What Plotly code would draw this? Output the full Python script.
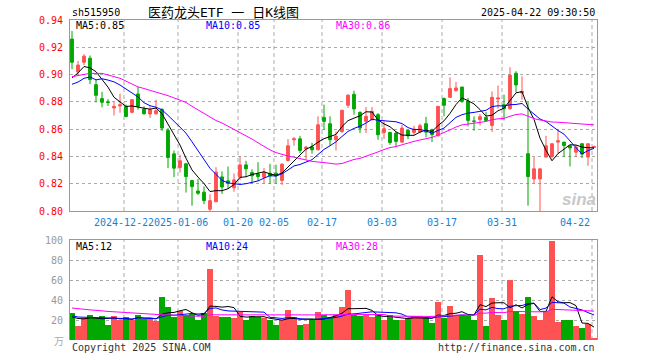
import plotly.graph_objects as go
import pandas as pd

# ---------------- data ----------------
opens = [0.926, 0.902, 0.909, 0.912, 0.8926, 0.8824, 0.880, 0.8755, 0.8770, 0.8767,
         0.8723, 0.8858, 0.8748, 0.8711, 0.8713, 0.8743, 0.8590, 0.8419, 0.8319, 0.8346,
         0.8223, 0.8147, 0.8138, 0.8013, 0.8068, 0.8250, 0.8221, 0.8170, 0.8248, 0.8338,
         0.8282, 0.8272, 0.8248, 0.8277, 0.8277, 0.8223, 0.8370, 0.8522, 0.8529, 0.8456,
         0.8470, 0.8449, 0.8686, 0.8640, 0.8522, 0.8583, 0.8775, 0.8855, 0.8723, 0.8657,
         0.8669, 0.8706, 0.8576, 0.8576, 0.8571, 0.8505, 0.8591, 0.8576, 0.8580, 0.8640,
         0.8595, 0.8551, 0.8824, 0.8833, 0.8882, 0.8909, 0.8804, 0.8660, 0.8669, 0.8686,
         0.8627, 0.8821, 0.8779, 0.8750, 0.9010, 0.8865, 0.8420, 0.8235, 0.8235, 0.8395,
         0.8400, 0.8505, 0.8505, 0.8478, 0.8431, 0.8493, 0.8395, 0.8466]
highs = [0.932, 0.910, 0.915, 0.914, 0.8963, 0.8873, 0.882, 0.880, 0.886, 0.878,
         0.882, 0.891, 0.8767, 0.8767, 0.8816, 0.8755, 0.8608, 0.8443, 0.8412, 0.8351,
         0.8228, 0.8235, 0.818, 0.8123, 0.8321, 0.8290, 0.8326, 0.8275, 0.8400, 0.8368,
         0.8305, 0.8358, 0.8314, 0.8346, 0.8340, 0.8350, 0.8527, 0.8542, 0.8551, 0.8478,
         0.8500, 0.8694, 0.8779, 0.8694, 0.8583, 0.8743, 0.8858, 0.8882, 0.8730, 0.8762,
         0.8762, 0.8718, 0.8657, 0.8581, 0.8580, 0.8632, 0.8596, 0.8625, 0.8640, 0.8690,
         0.8603, 0.8770, 0.8833, 0.8980, 0.8946, 0.8909, 0.8828, 0.8694, 0.8711, 0.8725,
         0.8877, 0.8920, 0.8853, 0.9054, 0.9025, 0.8988, 0.8800, 0.8395, 0.8309, 0.8551,
         0.8493, 0.8596, 0.8505, 0.8478, 0.8485, 0.8497, 0.8493, 0.8478]
lows = [0.904, 0.900, 0.907, 0.893, 0.8796, 0.876, 0.877, 0.870, 0.872, 0.8686,
        0.8716, 0.8743, 0.8706, 0.8682, 0.8706, 0.8588, 0.8314, 0.8248, 0.8282, 0.8135,
        0.8039, 0.8118, 0.805, 0.800, 0.8065, 0.8125, 0.8167, 0.8142, 0.8228, 0.8248,
        0.8200, 0.8221, 0.8199, 0.8199, 0.8199, 0.8191, 0.8363, 0.8478, 0.8424, 0.8375,
        0.8420, 0.8444, 0.8596, 0.8478, 0.8444, 0.8571, 0.8755, 0.8706, 0.8571, 0.8571,
        0.8664, 0.8522, 0.8529, 0.8485, 0.8470, 0.8498, 0.8527, 0.8560, 0.8570, 0.8540,
        0.8505, 0.8547, 0.8694, 0.8833, 0.8877, 0.8792, 0.8620, 0.8588, 0.8627, 0.8659,
        0.8580, 0.8750, 0.8664, 0.8743, 0.8870, 0.8816, 0.8039, 0.8199, 0.8000, 0.8395,
        0.8387, 0.8419, 0.8395, 0.8326, 0.8395, 0.8387, 0.8331, 0.8461]
closes = [0.909, 0.907, 0.9135, 0.8963, 0.8848, 0.8797, 0.8795, 0.8767, 0.8779, 0.8693,
          0.8816, 0.8767, 0.8713, 0.8743, 0.8735, 0.8608, 0.8392, 0.8314, 0.8368, 0.8252,
          0.8179, 0.8130, 0.8076, 0.8076, 0.8285, 0.8176, 0.8204, 0.8228, 0.8338, 0.8309,
          0.8258, 0.8252, 0.8282, 0.8257, 0.8258, 0.8343, 0.8478, 0.8529, 0.8444, 0.8468,
          0.8449, 0.8632, 0.8657, 0.8522, 0.8547, 0.8738, 0.8848, 0.8748, 0.8608, 0.8694,
          0.8730, 0.8559, 0.8603, 0.8502, 0.8510, 0.8608, 0.8551, 0.8600, 0.8625, 0.8578,
          0.8560, 0.8767, 0.8775, 0.8897, 0.8902, 0.8804, 0.8664, 0.8657, 0.8691, 0.8664,
          0.8833, 0.8828, 0.8750, 0.8995, 0.8924, 0.8877, 0.8252, 0.8309, 0.8309, 0.8478,
          0.8493, 0.8515, 0.8480, 0.8462, 0.8468, 0.8417, 0.8493, 0.8473]
volumes = [27, 13.7, 22, 25, 22, 23.7, 15.3, 24.3, 20.3, 22.7,
           20.3, 25.3, 21, 21, 18.7, 42.7, 32.7, 22.7, 29.3, 25.3,
           26.3, 19.7, 27, 71.3, 23.7, 22.7, 22.7, 21.7, 27.7, 19.7,
           24.3, 23, 21.7, 19.7, 15.3, 19.7, 30.3, 23, 15.3, 16.3,
           20.3, 27.7, 25, 23, 25, 33.3, 50.3, 25, 24.3, 25.3,
           23, 25, 20.3, 25, 20.3, 20.3, 21, 24.3, 24.3, 21.7,
           17, 37.7, 21.7, 33.7, 23.7, 24.7, 23.7, 19.7, 84.7, 14.3,
           42.3, 25.3, 19.7, 59.7, 29.3, 26.3, 43.3, 24.3, 19.7, 29.3,
           99.3, 18.3, 19.7, 20.3, 14.3, 12.3, 16.3, 1.3]
# sessions before the visible window (only feed the moving averages)
prior_closes = [0.883, 0.8895, 0.872, 0.8848, 0.8797, 0.9155, 0.9127, 0.9139, 0.932, 0.945,
                0.94, 0.907, 0.910, 0.9095, 0.8968, 0.889, 0.881, 0.887, 0.875, 0.902,
                0.891, 0.886, 0.886, 0.9065, 0.8715, 0.889, 0.890, 0.901, 0.899]
prior_volumes = [38, 45, 33, 36, 30, 41, 35, 32, 39, 34, 37, 31, 36, 40, 33, 35, 38, 32, 34, 37,
                 27, 24, 28, 25, 24, 21, 24, 20, 23]

date_tick_idx = [9, 18, 28, 34, 42, 52, 62, 72, 87]
date_tick_labels = ["2024-12-23", "2025-01-06", "01-20", "02-05", "02-17", "03-03", "03-17", "03-31", "04-22"]
price_ticks = [0.80, 0.82, 0.84, 0.86, 0.88, 0.90, 0.92, 0.94]
vol_ticks = [20, 40, 60, 80, 100]

# ---------------- derived ----------------
n = len(closes)
idx = list(range(n))
pc = pd.Series(prior_closes + closes)
pv = pd.Series(prior_volumes + volumes)
k = len(prior_closes)
ma5 = pc.rolling(5).mean().iloc[k:].tolist()
ma10 = pc.rolling(10).mean().iloc[k:].tolist()
ma30 = pc.rolling(30).mean().iloc[k:].tolist()
vma5 = pv.rolling(5).mean().iloc[k:].tolist()
vma10 = pv.rolling(10).mean().iloc[k:].tolist()
vma30 = pv.rolling(30).mean().iloc[k:].tolist()

UP = "#ff5252"
DOWN = "#00a800"
bar_colors = [UP if c >= o else DOWN for o, c in zip(opens, closes)]

W, H = 660, 360
X0, X1 = 70, 597
PY0, PY1 = 20, 211
VY0, VY1 = 240, 340
MONO = "DejaVu Sans Mono"


def fx(p):
    return p / W


def fy(p):
    return 1 - p / H


xrange_ = [(X0 - 72) / 6, (X1 - 72) / 6]

fig = go.Figure()
fig.add_trace(go.Candlestick(
    x=idx, open=opens, high=highs, low=lows, close=closes,
    increasing=dict(line=dict(color=UP, width=1), fillcolor=UP),
    decreasing=dict(line=dict(color=DOWN, width=1), fillcolor=DOWN),
    whiskerwidth=0, hoverinfo="skip", xaxis="x", yaxis="y", showlegend=False))
for vals, col in [(ma5, "#000000"), (ma10, "#0000ff"), (ma30, "#ff00ff")]:
    fig.add_trace(go.Scatter(x=idx, y=vals, mode="lines", line=dict(color=col, width=1),
                             hoverinfo="skip", xaxis="x", yaxis="y", showlegend=False))
fig.add_trace(go.Bar(x=idx, y=volumes, marker=dict(color=bar_colors, line=dict(width=0)),
                     width=0.84, hoverinfo="skip", xaxis="x2", yaxis="y2", showlegend=False))
for vals, col in [(vma5, "#000000"), (vma10, "#0000ff"), (vma30, "#ff00ff")]:
    fig.add_trace(go.Scatter(x=idx, y=vals, mode="lines", line=dict(color=col, width=1),
                             hoverinfo="skip", xaxis="x2", yaxis="y2", showlegend=False))

shapes = []
for i in date_tick_idx:
    for yr in ["y domain", "y2 domain"]:
        shapes.append(dict(type="line", xref="x", yref=yr, x0=i - 1 / 3, x1=i - 1 / 3, y0=0, y1=1,
                           line=dict(color="#aaaaaa", width=1, dash="4px,3px"), layer="below"))

annotations = []


def txt(text, x, y, color, size=10, xanchor="left", family=MONO, xref="paper", **kw):
    annotations.append(dict(text=text, x=x, y=y, xref=xref, yref="paper", xanchor=xanchor,
                            yanchor="middle", showarrow=False,
                            font=dict(family=family, size=size, color=color), **kw))


txt("sh515950", fx(70), fy(13), "#000000")
txt("医药龙头ETF 一 日K线图", fx(223), fy(13), "#000000", size=13, xanchor="center",
    family="DejaVu Sans Mono, Noto Sans CJK SC")
txt("2025-04-22 09:30:50", fx(597), fy(13), "#000000", xanchor="right")
txt("MA5:0.85", fx(74), fy(26), "#000000")
txt("MA10:0.85", fx(204), fy(26), "#0000ff")
txt("MA30:0.86", fx(334), fy(26), "#ff00ff")
txt("MA5:12", fx(74), fy(246), "#000000")
txt("MA10:24", fx(204), fy(246), "#0000ff")
txt("MA30:28", fx(334), fy(246), "#ff00ff")
txt("万", fx(66), fy(340), "#aaaaaa", size=10, xanchor="right", family="Noto Sans CJK SC")
txt("Copyright 2025 SINA.COM", fx(70), fy(347), "#333333")
txt("http://finance.sina.com.cn", fx(597), fy(347), "#333333", xanchor="right")
txt("<b><i>sina</i></b>", fx(579), fy(199), "#c8c8c8", size=17, xanchor="center",
    family="Arial")
for j, (i, lab) in enumerate(zip(date_tick_idx, date_tick_labels)):
    xa = "right" if j == len(date_tick_idx) - 1 else "center"
    extra = {"bgcolor": "#ffffff", "borderpad": 0} if j == 1 else {}
    txt(lab, i - 1 / 3, fy(222), "#1a7fd4", xanchor=xa, xref="x", **extra)

axis_common = dict(showgrid=False, zeroline=False, fixedrange=True, automargin=False)
fig.update_layout(
    template="none",
    width=W, height=H, margin=dict(l=0, r=0, t=0, b=0, autoexpand=False),
    paper_bgcolor="#ffffff", plot_bgcolor="#ffffff",
    boxgap=0.33, bargap=0,
    xaxis=dict(domain=[fx(X0), fx(X1)], range=xrange_, anchor="y", showticklabels=False,
               ticks="", showline=True, mirror=True, linecolor="#999999", linewidth=1,
               rangeslider=dict(visible=False), **axis_common),
    yaxis=dict(domain=[fy(PY1), fy(PY0)], range=[0.80, 0.94], anchor="x",
               tickvals=price_ticks, ticktext=["%.2f" % v for v in price_ticks],
               tickfont=dict(family=MONO, size=10, color="#ff0000"), ticks="",
               ticklabelstandoff=4, showline=True, mirror=True, linecolor="#999999",
               linewidth=1, showgrid=True, gridcolor="#aaaaaa", griddash="dot", gridwidth=1,
               zeroline=False, fixedrange=True, automargin=False),
    xaxis2=dict(domain=[fx(X0), fx(X1)], range=xrange_, anchor="y2", showticklabels=False,
                ticks="", showline=True, side="top", linecolor="#999999", linewidth=1,
                **axis_common),
    yaxis2=dict(domain=[fy(VY1), fy(VY0)], range=[0, 100], anchor="x2",
                tickvals=vol_ticks, ticktext=[str(v) for v in vol_ticks],
                tickfont=dict(family=MONO, size=10, color="#999999"), ticks="",
                ticklabelstandoff=4, showline=True, mirror=True, linecolor="#999999",
                linewidth=1, showgrid=True, gridcolor="#aaaaaa", griddash="dot", gridwidth=1,
                zeroline=False, fixedrange=True, automargin=False),
    shapes=shapes, annotations=annotations,
)

fig.write_html("out.html", config={"displayModeBar": False},
               post_script="document.body.style.margin='0';document.body.style.padding='0';"
                           "document.documentElement.style.overflow='hidden';")
